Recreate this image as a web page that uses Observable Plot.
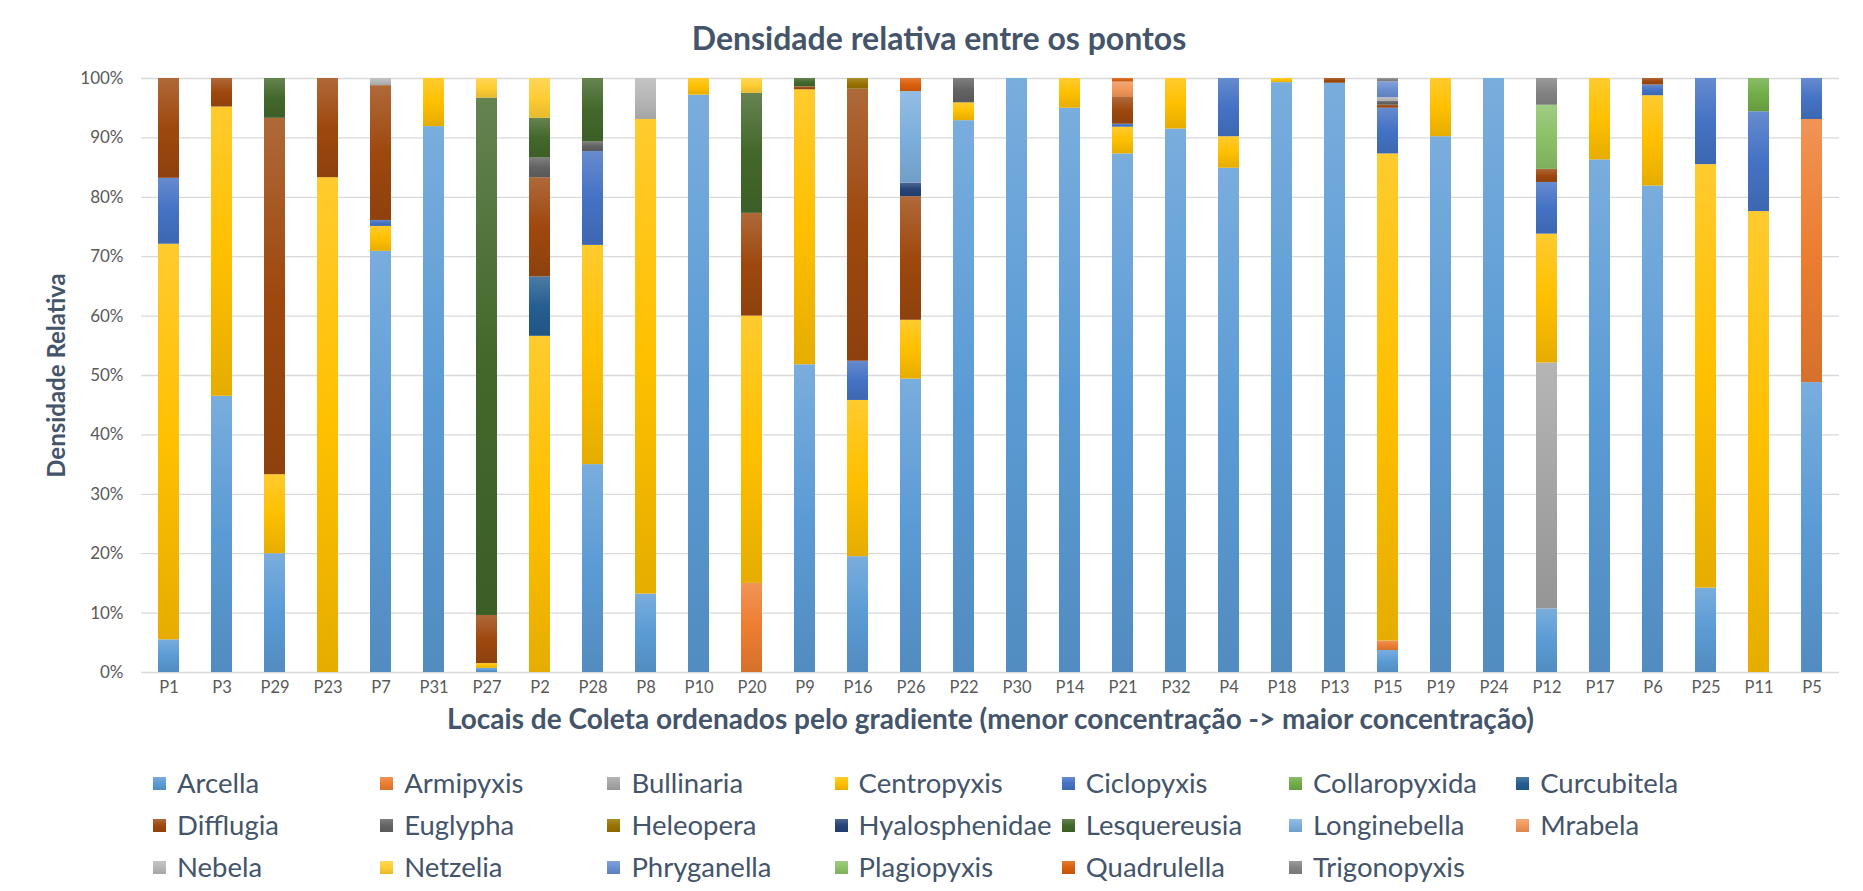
<!DOCTYPE html>
<html>
<head>
<meta charset="utf-8">
<script src="https://cdn.jsdelivr.net/npm/d3@7"></script>
<script src="https://cdn.jsdelivr.net/npm/@observablehq/plot@0.6"></script>
<style>
  html, body { margin: 0; padding: 0; background: #fff; }
  #wrap { position: relative; width: 1863px; height: 891px; overflow: hidden; font-family: Lato, "Open Sans", sans-serif; }
  #wrap svg { position: absolute; left: 0; top: 0; }
  #title { position: absolute; top: 22px; left: 939px; transform: translateX(-50%); white-space: nowrap;
           font: bold 32px Lato, sans-serif; line-height: 1; color: #44546A; }
  .lg { position: absolute; height: 28px; display: flex; align-items: center; white-space: nowrap;
        font: 27.5px Lato, sans-serif; line-height: 1; color: #44546A; }
  .lg i { display: inline-block; width: 13px; height: 13px; margin-right: 11px; }
</style>
</head>
<body>
<div id="wrap">
  <div id="title">Densidade relativa entre os pontos</div>
</div>
<script>
// ---- Data ----
const categories = ["P1","P3","P29","P23","P7","P31","P27","P2","P28","P8","P10","P20","P9","P16","P26","P22",
                    "P30","P14","P21","P32","P4","P18","P13","P15","P19","P24","P12","P17","P6","P25","P11","P5"];

const seriesNames = ["Arcella","Armipyxis","Bullinaria","Centropyxis","Ciclopyxis","Collaropyxida","Curcubitela",
  "Difflugia","Euglypha","Heleopera","Hyalosphenidae","Lesquereusia","Longinebella","Mrabela",
  "Nebela","Netzelia","Phryganella","Plagiopyxis","Quadrulella","Trigonopyxis"];

const seriesColors = ["#5B9BD5","#ED7D31","#A5A5A5","#FFC000","#4472C4","#70AD47","#255E91",
  "#9E480E","#636363","#997300","#264478","#43682B","#7CAFDD","#F1975A",
  "#B7B7B7","#FFCD33","#698ED0","#8CC168","#DA5F0B","#848484"];

//                 P1   P3   P29  P23  P7   P31  P27  P2   P28  P8   P10  P20  P9   P16  P26  P22  P30 P14 P21  P32  P4   P18  P13  P15  P19  P24 P12  P17  P6   P25  P11  P5
const arcella      = [5.5, 46.5, 20, 0, 70.9, 91.9, 0.7, 0, 35, 13.2, 97.2, 0, 51.8, 19.5, 49.4, 92.9, 100, 95, 87.3, 91.5, 84.9, 99.3, 99.2, 3.7, 90.2, 100, 10.7, 86.3, 81.9, 14.2, 0, 48.8];
const armipyxis    = [0, 0, 0, 0, 0, 0, 0, 0, 0, 0, 0, 15, 0, 0, 0, 0, 0, 0, 0, 0, 0, 0, 0, 1.6, 0, 0, 0, 0, 0, 0, 0, 44.3];
const bullinaria   = [0, 0, 0, 0, 0, 0, 0, 0, 0, 0, 0, 0, 0, 0, 0, 0, 0, 0, 0, 0, 0, 0, 0, 0, 0, 0, 41.4, 0, 0, 0, 0, 0];
const centropyxis  = [66.6, 48.7, 13.3, 83.3, 4.2, 8.1, 0.8, 56.6, 36.9, 79.9, 2.8, 45, 46.3, 26.3, 9.9, 3.0, 0, 5, 4.5, 8.5, 5.3, 0.7, 0, 82.0, 9.8, 0, 21.7, 13.7, 15.2, 71.3, 77.6, 0];
const ciclopyxis   = [11.1, 0, 0, 0, 1.0, 0, 0, 0, 15.8, 0, 0, 0, 0, 6.6, 0, 0, 0, 0, 0.5, 0, 9.8, 0, 0, 7.7, 0, 0, 8.7, 0, 1.8, 14.5, 16.8, 6.9];
const collaropyxida= [0, 0, 0, 0, 0, 0, 0, 0, 0, 0, 0, 0, 0, 0, 0, 0, 0, 0, 0, 0, 0, 0, 0, 0, 0, 0, 0, 0, 0, 0, 5.6, 0];
const curcubitela  = [0, 0, 0, 0, 0, 0, 0, 10.0, 0, 0, 0, 0, 0, 0, 0, 0, 0, 0, 0, 0, 0, 0, 0, 0, 0, 0, 0, 0, 0, 0, 0, 0];
const difflugia    = [16.8, 4.8, 60, 16.7, 22.7, 0, 8.1, 16.7, 0, 0, 0, 17.3, 0.5, 45.8, 20.8, 0, 0, 0, 4.5, 0, 0, 0, 0.8, 0.5, 0, 0, 2.2, 0, 1.1, 0, 0, 0];
const euglypha     = [0, 0, 0, 0, 0, 0, 0, 3.3, 1.6, 0, 0, 0, 0, 0, 0, 4.1, 0, 0, 0, 0, 0, 0, 0, 0.7, 0, 0, 0, 0, 0, 0, 0, 0];
const heleopera    = [0, 0, 0, 0, 0, 0, 0, 0, 0, 0, 0, 0, 0, 1.8, 0, 0, 0, 0, 0, 0, 0, 0, 0, 0, 0, 0, 0, 0, 0, 0, 0, 0];
const hyalosphenidae=[0, 0, 0, 0, 0, 0, 0, 0, 0, 0, 0, 0, 0, 0, 2.3, 0, 0, 0, 0, 0, 0, 0, 0, 0, 0, 0, 0, 0, 0, 0, 0, 0];
const lesquereusia = [0, 0, 6.7, 0, 0, 0, 87.1, 6.7, 10.7, 0, 0, 20.2, 1.4, 0, 0, 0, 0, 0, 0, 0, 0, 0, 0, 0, 0, 0, 0, 0, 0, 0, 0, 0];
const longinebella = [0, 0, 0, 0, 0, 0, 0, 0, 0, 0, 0, 0, 0, 0, 15.4, 0, 0, 0, 0, 0, 0, 0, 0, 0, 0, 0, 0, 0, 0, 0, 0, 0];
const mrabela      = [0, 0, 0, 0, 0, 0, 0, 0, 0, 0, 0, 0, 0, 0, 0, 0, 0, 0, 2.6, 0, 0, 0, 0, 0, 0, 0, 0, 0, 0, 0, 0, 0];
const nebela       = [0, 0, 0, 0, 1.2, 0, 0, 0, 0, 6.9, 0, 0, 0, 0, 0, 0, 0, 0, 0, 0, 0, 0, 0, 0.55, 0, 0, 0, 0, 0, 0, 0, 0];
const netzelia     = [0, 0, 0, 0, 0, 0, 3.3, 6.7, 0, 0, 0, 2.5, 0, 0, 0, 0, 0, 0, 0, 0, 0, 0, 0, 0, 0, 0, 0, 0, 0, 0, 0, 0];
const phryganella  = [0, 0, 0, 0, 0, 0, 0, 0, 0, 0, 0, 0, 0, 0, 0, 0, 0, 0, 0, 0, 0, 0, 0, 2.7, 0, 0, 0, 0, 0, 0, 0, 0];
const plagiopyxis  = [0, 0, 0, 0, 0, 0, 0, 0, 0, 0, 0, 0, 0, 0, 0, 0, 0, 0, 0, 0, 0, 0, 0, 0, 0, 0, 10.8, 0, 0, 0, 0, 0];
const quadrulella  = [0, 0, 0, 0, 0, 0, 0, 0, 0, 0, 0, 0, 0, 0, 2.2, 0, 0, 0, 0.6, 0, 0, 0, 0, 0, 0, 0, 0, 0, 0, 0, 0, 0];
const trigonopyxis = [0, 0, 0, 0, 0, 0, 0, 0, 0, 0, 0, 0, 0, 0, 0, 0, 0, 0, 0, 0, 0, 0, 0, 0.55, 0, 0, 4.5, 0, 0, 0, 0, 0];

const yTicks = [0, 0.1, 0.2, 0.3, 0.4, 0.5, 0.6, 0.7, 0.8, 0.9, 1];
const chartTitle = "Densidade relativa entre os pontos";
const xTitle = "Locais de Coleta ordenados pelo gradiente (menor concentração -> maior concentração)";
const yTitle = "Densidade Relativa";

// ---- Build table ----
const seriesValues = [arcella, armipyxis, bullinaria, centropyxis, ciclopyxis, collaropyxida, curcubitela,
  difflugia, euglypha, heleopera, hyalosphenidae, lesquereusia, longinebella, mrabela,
  nebela, netzelia, phryganella, plagiopyxis, quadrulella, trigonopyxis];

const table = [];
categories.forEach((c, i) => {
  seriesNames.forEach((s, j) => {
    const v = seriesValues[j][i];
    if (v > 0) table.push({local: c, taxon: s, value: v});
  });
});

const light = (c) => d3.interpolateRgb(c, "#ffffff")(0.18);
const dark = (c) => d3.interpolateRgb(c, "#000000")(0.1);

const W = 1863, H = 750;
const chart = Plot.plot({
  width: W, height: H,
  marginTop: 78, marginBottom: H - 672, marginLeft: 141, marginRight: 24,
  style: {fontFamily: "Lato, sans-serif", fontSize: "16px", color: "#595959", background: "transparent"},
  x: {domain: categories, paddingInner: 0.6, paddingOuter: 0.3, label: null},
  y: {domain: [0, 1], label: null},
  color: {domain: seriesNames, range: seriesNames.map((_, i) => `url(#grad${i})`)},
  marks: [
    Plot.gridY(yTicks, {stroke: "#D9D9D9", strokeOpacity: 1, strokeWidth: 1.3}),
    Plot.axisY(yTicks, {tickFormat: d3.format(".0%"), tickSize: 0, tickPadding: 18, label: null, fontSize: 17, fill: "#595959"}),
    Plot.axisX({tickSize: 0, tickPadding: 9, label: null, fontSize: 16.5, fill: "#595959"}),
    Plot.barY(table, Plot.stackY({offset: "normalize"}, {x: "local", y: "value", fill: "taxon"})),
    Plot.text([xTitle], {frameAnchor: "bottom", dy: 56, fontSize: 28, fontWeight: "bold", fill: "#44546A"}),
    Plot.text([yTitle], {frameAnchor: "left", dx: -84, rotate: -90, textAnchor: "middle", fontSize: 24, fontWeight: "bold", fill: "#44546A"})
  ]
});

// gradient fills (Excel-like shading)
const ns = "http://www.w3.org/2000/svg";
const defs = document.createElementNS(ns, "defs");
seriesColors.forEach((c, i) => {
  const g = document.createElementNS(ns, "linearGradient");
  g.setAttribute("id", `grad${i}`);
  g.setAttribute("x1", "0"); g.setAttribute("y1", "0"); g.setAttribute("x2", "0"); g.setAttribute("y2", "1");
  [[0, light(c)], [0.5, c], [1, dark(c)]].forEach(([o, col]) => {
    const s = document.createElementNS(ns, "stop");
    s.setAttribute("offset", o); s.setAttribute("stop-color", col);
    g.appendChild(s);
  });
  defs.appendChild(g);
});
chart.insertBefore(defs, chart.firstChild);

const wrap = document.getElementById("wrap");
wrap.appendChild(chart);

// legend
const rowY = [783, 825, 867];
seriesNames.forEach((s, i) => {
  const col = i % 7, row = Math.floor(i / 7);
  const d = document.createElement("div");
  d.className = "lg";
  d.style.left = (153 + col * 227.2) + "px";
  d.style.top = (rowY[row] - 14) + "px";
  const m = document.createElement("i");
  const c = seriesColors[i];
  m.style.background = `linear-gradient(${light(c)}, ${c}, ${dark(c)})`;
  d.appendChild(m);
  d.appendChild(document.createTextNode(s));
  wrap.appendChild(d);
});
</script>
</body>
</html>
